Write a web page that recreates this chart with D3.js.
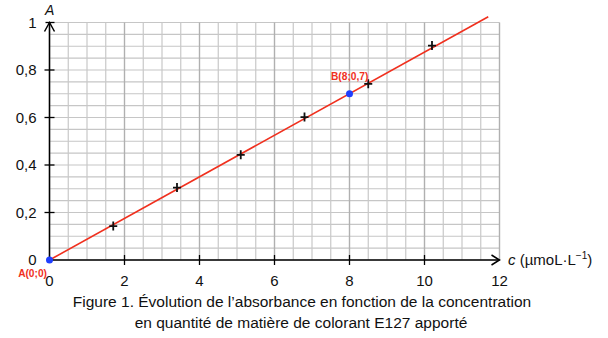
<!DOCTYPE html>
<html><head><meta charset="utf-8">
<script src="https://cdn.jsdelivr.net/npm/d3@7"></script>
<style>body{margin:0;background:#fff}svg{display:block;font-family:"Liberation Sans",Arial,sans-serif}</style>
</head><body>
<script>
const xTicks = [0, 2, 4, 6, 8, 10, 12];
const yTicks = [0, 0.2, 0.4, 0.6, 0.8, 1];
const measC = [1.7, 3.4, 5.1, 6.8, 8.5, 10.2];
const measA = [0.143, 0.305, 0.443, 0.602, 0.742, 0.903];
const lineC = [0, 11.7];
const lineA = [0, 1.024];
const pointNames = ["A(0;0)", "B(8;0,7)"];
const pointC = [0, 8];
const pointA = [0, 0.7];

const W = 608, H = 338;
const svg = d3.select("body").append("svg").attr("width", W).attr("height", H);
const x = d3.scaleLinear().domain([0, 12]).range([49.5, 499.5]);
const y = d3.scaleLinear().domain([0, 1]).range([260, 22.5]);

const g = svg.append("g");
const xMinor = d3.range(0, 12.001, 0.5);
const yMinor = d3.range(0, 1.0001, 0.05);
const isMajor = d => Math.abs(d % 2) < 1e-6;
g.selectAll(".hy").data(yMinor).join("line")
  .attr("x1", x(0)).attr("x2", x(12)).attr("y1", d => y(d)).attr("y2", d => y(d))
  .attr("stroke", "#c6c6c6").attr("stroke-width", 1.2);
g.selectAll(".vx").data(xMinor).join("line")
  .attr("x1", d => x(d)).attr("x2", d => x(d)).attr("y1", y(0)).attr("y2", y(1))
  .attr("stroke", d => isMajor(d) ? "#b0b0b0" : "#c8c8c8").attr("stroke-width", d => isMajor(d) ? 1.4 : 1.2);

// axes
svg.append("g").attr("transform", `translate(0,${y(0)})`)
  .call(d3.axisBottom(x).tickValues(xTicks).tickSize(0).tickFormat(""))
  .call(a => a.select(".domain").remove());
svg.selectAll(".xt").data(xTicks.slice(1, 6)).join("line")
  .attr("x1", d => x(d)).attr("x2", d => x(d)).attr("y1", y(0) - 5).attr("y2", y(0) + 5)
  .attr("stroke", "#000").attr("stroke-width", 1.3);
svg.selectAll(".yt").data(yTicks.slice(1, 5)).join("line")
  .attr("x1", x(0) - 5).attr("x2", x(0) + 5).attr("y1", d => y(d)).attr("y2", d => y(d))
  .attr("stroke", "#000").attr("stroke-width", 1.3);
svg.append("line").attr("x1", x(0) - 4).attr("x2", x(0) + 5).attr("y1", y(1)).attr("y2", y(1)).attr("stroke", "#000").attr("stroke-width", 1.3);

svg.append("line").attr("x1", x(0)).attr("x2", x(12)).attr("y1", y(0)).attr("y2", y(0)).attr("stroke", "#000").attr("stroke-width", 1.5);
svg.append("line").attr("x1", x(0)).attr("x2", x(0)).attr("y1", y(0) + 1).attr("y2", y(1)).attr("stroke", "#000").attr("stroke-width", 1.5);
svg.append("path").attr("d", `M${x(12)-8},${y(0)-5} L${x(12)},${y(0)} L${x(12)-8},${y(0)+5}`).attr("fill", "none").attr("stroke", "#000").attr("stroke-width", 1.5);
svg.append("path").attr("d", `M${x(0)-5},${y(1)+9} L${x(0)},${y(1)} L${x(0)+5},${y(1)+9}`).attr("fill", "none").attr("stroke", "#000").attr("stroke-width", 1.5);

// tick labels
const fmt = d => String(d).replace(".", ",");
svg.selectAll(".xl").data(xTicks).join("text")
  .attr("x", d => x(d)).attr("y", y(0) + 25.5).attr("text-anchor", "middle")
  .attr("font-size", 15).attr("fill", "#111").text(d => d);
svg.selectAll(".yl").data(yTicks).join("text")
  .attr("x", 36.5).attr("y", d => y(d) + 5).attr("text-anchor", "end")
  .attr("font-size", 15).attr("fill", "#111").text(fmt);
svg.append("text").attr("x", 45).attr("y", 15).attr("font-size", 14).attr("font-style", "italic").attr("fill", "#111").text("A");
const cl = svg.append("text").attr("x", 508).attr("y", y(0) + 5).attr("font-size", 15).attr("fill", "#111");
cl.append("tspan").attr("font-style", "italic").text("c");
cl.append("tspan").text(" (µmoL·L");
cl.append("tspan").attr("font-size", 10).attr("dy", -6).text("−1");
cl.append("tspan").attr("dy", 6).text(")");

// fit line
const line = d3.line().x((d, i) => x(lineC[i])).y((d, i) => y(lineA[i]));
svg.append("path").datum(lineC).attr("d", line).attr("fill", "none").attr("stroke", "#f0301e").attr("stroke-width", 1.6);

// measurement crosses
svg.selectAll(".m").data(measC).join("path")
  .attr("d", (d, i) => `M${x(d)-4},${y(measA[i])} h8 M${x(d)},${y(measA[i])-4.5} v9`)
  .attr("stroke", "#111").attr("stroke-width", 1.8);

// points
svg.selectAll(".p").data(pointC).join("circle")
  .attr("cx", d => x(d)).attr("cy", (d, i) => y(pointA[i])).attr("r", 3.5).attr("fill", "#1f3fff");
svg.append("text").attr("x", x(0) - 2.5).attr("y", y(0) + 17).attr("text-anchor", "end").attr("font-size", 10.2).attr("font-weight", "bold").attr("fill", "#f0301e").text(pointNames[0]);
svg.append("text").attr("x", x(8) - 18.5).attr("y", y(0.7) - 14).attr("font-size", 10.2).attr("font-weight", "bold").attr("fill", "#f0301e").text(pointNames[1]);

// caption
svg.append("text").attr("x", 302).attr("y", 307).attr("text-anchor", "middle").attr("font-size", 15.5).attr("fill", "#111").text("Figure 1. Évolution de l’absorbance en fonction de la concentration");
svg.append("text").attr("x", 301).attr("y", 328).attr("text-anchor", "middle").attr("font-size", 15.5).attr("fill", "#111").text("en quantité de matière de colorant E127 apporté");
</script>
</body></html>
